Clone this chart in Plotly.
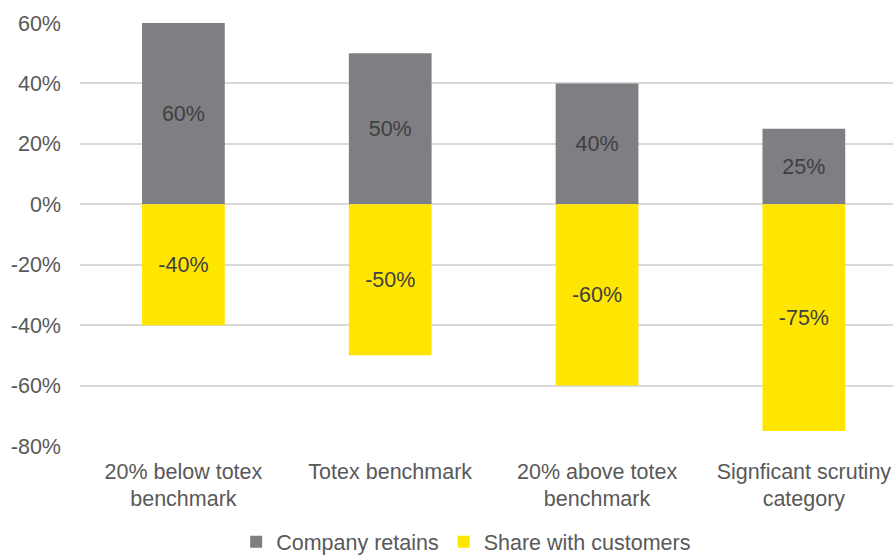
import plotly.graph_objects as go

# Sharing factors by totex performance band
categories = [
    "20% below totex<br>benchmark",
    "Totex benchmark",
    "20% above totex<br>benchmark",
    "Signficant scrutiny<br>category",
]
company_retains = [60, 50, 40, 25]
share_with_customers = [-40, -50, -60, -75]
y_ticks = [60, 40, 20, 0, -20, -40, -60, -80]
y_tick_labels = [f"{v}%" for v in y_ticks]

GREY = "#7f7e82"
YELLOW = "#ffe600"
TEXT = "#595959"
LABEL = "#404040"
FONT = "Liberation Sans, Arial, sans-serif"
SIZE = 21.5

fig = go.Figure()
fig.add_trace(go.Bar(
    name="Company retains",
    x=categories,
    y=company_retains,
    text=[f"{v}%" for v in company_retains],
    texttemplate="%{text}",
    marker=dict(color=GREY, line=dict(width=0)),
    textposition="inside",
    insidetextanchor="middle",
    textfont=dict(color=LABEL, size=SIZE, family=FONT),
))
fig.add_trace(go.Bar(
    name="Share with customers",
    x=categories,
    y=share_with_customers,
    text=[f"{v}%" for v in share_with_customers],
    texttemplate="%{text}",
    marker=dict(color=YELLOW, line=dict(width=0)),
    textposition="inside",
    insidetextanchor="middle",
    textfont=dict(color=LABEL, size=SIZE, family=FONT),
))

fig.update_layout(
    width=893,
    height=555,
    margin=dict(l=80, r=0, t=23, b=109, autoexpand=False),
    barmode="relative",
    bargap=0.6,
    plot_bgcolor="white",
    paper_bgcolor="white",
    font=dict(family=FONT, size=SIZE, color=TEXT),
    showlegend=True,
    legend=dict(
        orientation="h",
        x=0.475,
        xanchor="center",
        y=-0.178,
        yanchor="top",
        font=dict(size=SIZE, color=TEXT),
        itemwidth=30,
        tracegroupgap=0,
    ),
    uniformtext=dict(minsize=SIZE, mode="show"),
)
fig.update_xaxes(
    type="category",
    range=[-0.5, 3.431],
    showgrid=False,
    showline=False,
    ticks="",
    automargin=False,
    ticklabelstandoff=10,
    tickfont=dict(size=SIZE, color=TEXT),
)
fig.update_yaxes(
    range=[-80, 60],
    tickmode="array",
    tickvals=y_ticks,
    ticktext=y_tick_labels,
    showgrid=True,
    gridcolor="#d9d9d9",
    gridwidth=1.5,
    zeroline=True,
    zerolinecolor="#d9d9d9",
    zerolinewidth=1.5,
    showline=False,
    ticks="",
    automargin=False,
    ticklabelstandoff=18,
    tickfont=dict(size=SIZE, color=TEXT),
)

fig.write_html("out.html")
